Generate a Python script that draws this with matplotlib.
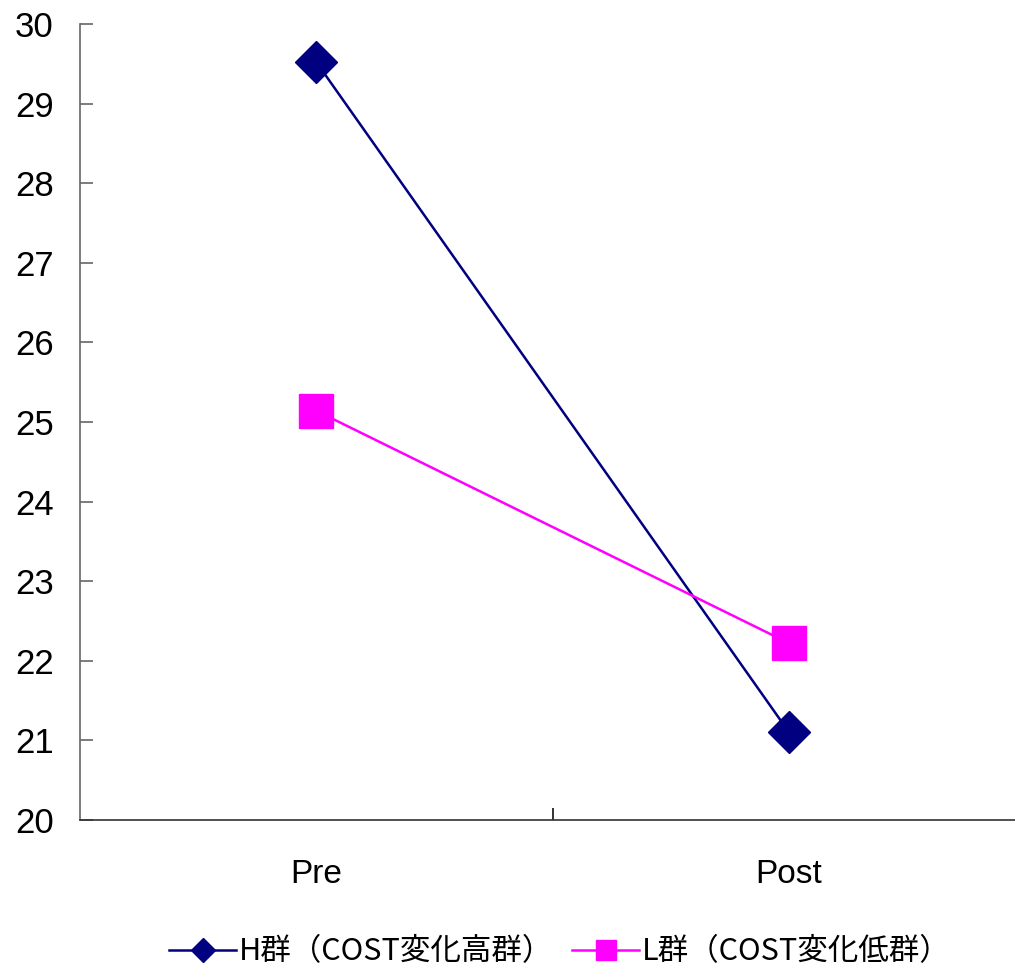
import matplotlib.pyplot as plt

plt.rcParams['font.family'] = ['Liberation Sans', 'Noto Sans CJK JP', 'DejaVu Sans']

# pre/post means for the two groups
phases = ['Pre', 'Post']
h_group = [29.52, 21.1]
l_group = [25.14, 22.22]
h_label = 'H群（COST変化高群）'
l_label = 'L群（COST変化低群）'
yticks = list(range(20, 31))

fig = plt.figure(figsize=(10.15, 9.73), dpi=100)
ax = fig.add_axes([80 / 1015, 153 / 973, 945.5 / 1015, 796 / 973])

x = list(range(len(phases)))
ax.plot(x, h_group, color='#000080', lw=1.8, marker='D', ms=21,
        mfc='#000080', mec='#000080', label=h_label)
ax.plot(x, l_group, color='#FF00FF', lw=1.8, marker='s', ms=24,
        mfc='#FF00FF', mec='#FF00FF', label=l_label)

ax.set_xlim(-0.5, 1.5)
ax.set_ylim(20, 30)
ax.set_yticks(yticks)
ax.set_yticklabels([str(v) for v in yticks])
ax.set_xticks([0.5])
ax.set_xticklabels([''])
for i, p in enumerate(phases):
    ax.text(i, 19.32, p, ha='center', va='center', fontsize=24)

for s in ['top', 'right']:
    ax.spines[s].set_visible(False)
ax.spines['left'].set_color('#666666')
ax.spines['bottom'].set_color('#333333')
ax.spines['left'].set_linewidth(1.2)
ax.spines['bottom'].set_linewidth(1.2)
ax.tick_params(axis='y', direction='in', length=9, width=1.2, color='#666666',
               labelsize=25, pad=19)
ax.tick_params(axis='x', direction='in', length=9, width=1.2, color='#111111')

fig.legend(loc='center', bbox_to_anchor=(560 / 1015, 1 - 952 / 973), ncol=2,
           frameon=False, handlelength=2.2, handletextpad=0.1,
           columnspacing=0.6, markerscale=0.6,
           prop={'family': ['Noto Sans CJK JP'], 'size': 22})

fig.savefig('out.png', dpi=100)
